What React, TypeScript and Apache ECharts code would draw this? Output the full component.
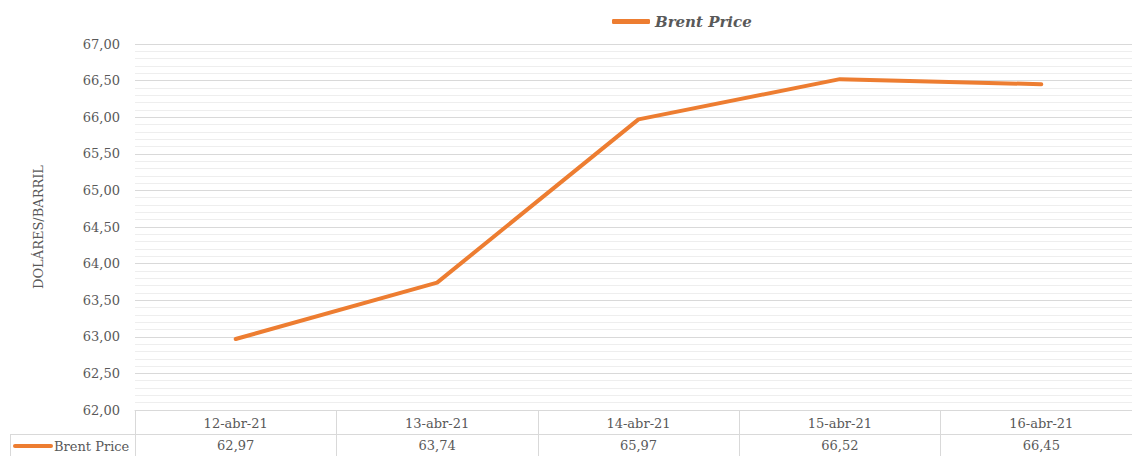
import React, { useEffect, useRef } from "react";
import * as echarts from "echarts";

const categories = ["12-abr-21", "13-abr-21", "14-abr-21", "15-abr-21", "16-abr-21"];
const brentPrice = [62.97, 63.74, 65.97, 66.52, 66.45];
const seriesName = "Brent Price";
const yTitle = "DOLÁRES/BARRIL";

const fmt = (v: number) => v.toFixed(2).replace(".", ",");
const FONT = "'DejaVu Serif', serif";
const GRID = "#d9d9d9";
const TXT = "#595959";
const ORANGE = "#ED7D31";

export default function App() {
  const ref = useRef<HTMLDivElement>(null);
  useEffect(() => {
    if (!ref.current) return;
    const chart = echarts.init(ref.current, null, { renderer: "svg" });
    chart.setOption({
      animation: false,
      backgroundColor: "#ffffff",
      textStyle: { fontFamily: FONT },
      legend: {
        top: 9,
        left: 607,
        itemWidth: 38,
        itemHeight: 5,
        itemGap: 4,
        icon: "roundRect",
        data: [seriesName],
        textStyle: {
          fontFamily: FONT,
          fontSize: 15,
          fontWeight: "bold",
          fontStyle: "italic",
          color: TXT,
        },
      },
      grid: { left: 135, right: 0, top: 44, bottom: 46, containLabel: false },
      xAxis: [
        {
          type: "category",
          data: categories,
          position: "bottom",
          boundaryGap: true,
          axisLine: { show: true, lineStyle: { color: GRID, width: 1 } },
          axisTick: { show: true, length: 46, lineStyle: { color: GRID, width: 1 } },
          axisLabel: { color: TXT, fontFamily: FONT, fontSize: 13, margin: 7 },
          splitLine: { show: false },
        },
        {
          type: "category",
          data: brentPrice.map(fmt),
          position: "bottom",
          offset: 24,
          boundaryGap: true,
          axisLine: { show: true, lineStyle: { color: GRID, width: 1 } },
          axisTick: { show: false },
          axisLabel: { color: TXT, fontFamily: FONT, fontSize: 13, margin: 5 },
          splitLine: { show: false },
        },
      ],
      yAxis: {
        type: "value",
        min: 62,
        max: 67,
        interval: 0.5,
        name: yTitle,
        nameLocation: "middle",
        nameRotate: 90,
        nameGap: 90,
        nameTextStyle: { color: TXT, fontFamily: FONT, fontSize: 13 },
        axisLine: { show: false },
        axisTick: { show: false },
        axisLabel: { color: TXT, fontFamily: FONT, fontSize: 13, margin: 15, formatter: (v: number) => fmt(v) },
        splitLine: { show: true, lineStyle: { color: GRID, width: 1 } },
        minorTick: { show: false, splitNumber: 5 },
        minorSplitLine: { show: true, lineStyle: { color: "#eeeeee", width: 1 } },
      },
      series: [
        {
          name: seriesName,
          type: "line",
          xAxisIndex: 0,
          data: brentPrice,
          symbol: "none",
          showSymbol: false,
          itemStyle: { color: ORANGE },
          lineStyle: { color: ORANGE, width: 4, cap: "round", join: "round" },
        },
      ],
      graphic: [
        { type: "line", shape: { x1: 10, y1: 434.5, x2: 135, y2: 434.5 }, style: { stroke: GRID, lineWidth: 1 } },
        { type: "line", shape: { x1: 10.5, y1: 434.5, x2: 10.5, y2: 456 }, style: { stroke: GRID, lineWidth: 1 } },
        { type: "line", shape: { x1: 15, y1: 446, x2: 51, y2: 446 }, style: { stroke: ORANGE, lineWidth: 4, lineCap: "round" } },
        {
          type: "text",
          x: 54,
          y: 446,
          style: { text: seriesName, fill: TXT, font: `13px ${FONT}`, verticalAlign: "middle", align: "left" },
        },
      ],
    });
    return () => chart.dispose();
  }, []);
  return (
    <div style={{ position: "absolute", left: 0, top: 0, width: 1132, height: 456, overflow: "hidden" }}>
      <div ref={ref} style={{ width: 1142, height: 456 }} />
    </div>
  );
}
